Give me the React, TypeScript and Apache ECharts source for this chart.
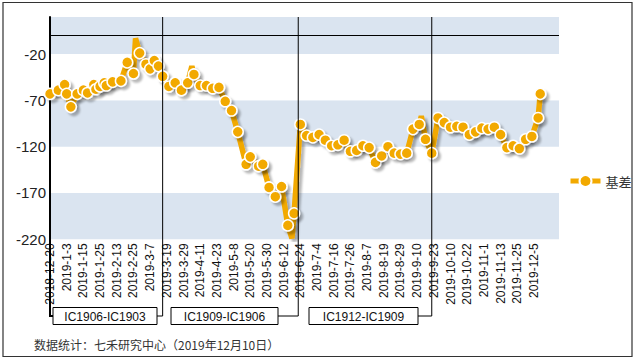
import React, { useEffect, useRef } from "react";
import * as echarts from "echarts";

// x-axis tick labels: one every 8 trading days, starting at trading-day index 0
const tickLabels = [
  "2018-12-20", "2019-1-3", "2019-1-15", "2019-1-25", "2019-2-13", "2019-2-25",
  "2019-3-7", "2019-3-19", "2019-3-29", "2019-4-11", "2019-4-23", "2019-5-8",
  "2019-5-20", "2019-5-30", "2019-6-12", "2019-6-24", "2019-7-4", "2019-7-16",
  "2019-7-26", "2019-8-7", "2019-8-19", "2019-8-29", "2019-9-10", "2019-9-23",
  "2019-10-10", "2019-10-22", "2019-11-1", "2019-11-13", "2019-11-25", "2019-12-5",
];

// trading-day index of each visible point and its basis value
const dayIdx = [
  0, 4, 7, 8, 10, 13, 16, 18, 21, 22, 24, 26, 27, 30, 34, 37, 40, 43, 46, 48, 50, 52, 54,
  57, 60, 63, 66, 69, 72, 75, 78, 81, 84, 87, 90, 94, 96, 100, 102, 105, 108, 111, 114, 117,
  120, 123, 126, 129, 132, 135, 138, 141, 144, 147, 150, 153, 156, 159, 162, 165, 168, 171,
  174, 177, 180, 183, 186, 189, 192, 195, 198, 201, 204, 207, 210, 213, 216, 219, 222, 225,
  228, 231, 234, 235,
];
const basis = [
  -63, -59, -53, -63, -77, -63, -59, -62, -53, -58, -55, -51, -54, -50, -49, -29, -41, -19,
  -31, -36, -27, -33, -44,
  -55, -51, -59, -51, -42, -54, -54, -57, -56, -71, -81, -104, -139, -131, -141, -139, -164,
  -174, -163, -205, -192,
  -96, -108, -110, -107, -113, -119, -118, -113, -125, -124, -119, -121, -137, -130, -120,
  -127, -128, -127, -101, -96, -112, -127,
  -89, -94, -99, -98, -99, -107, -104, -100, -101, -99, -107, -121, -119, -122, -112, -109,
  -89, -63,
];
// sharp turns of the line where no marker is visible
const spikeIdx = [41, 68, 116, 178];
const spikeVal = [-3, -33, -219, -87];

// contract roll days (trading-day index) and the contract-pair captions
const rollIdx = [54, 119, 183];
const pairLabels = ["IC1906-IC1903", "IC1909-IC1906", "IC1912-IC1909"];

const ORANGE = "#f2a900";
const FONT = "'Liberation Sans', Arial, sans-serif";
const CJK = "'Noto Sans CJK SC', sans-serif";
const SHADOW = "rgba(0,0,0,0.28)";

export default function App() {
  const ref = useRef<HTMLDivElement>(null);

  useEffect(() => {
    if (!ref.current) return;
    const chart = echarts.init(ref.current, null, { renderer: "svg" });

    const pts: any[] = dayIdx.map((d, i) => ({ value: [d, basis[i]] }));
    spikeIdx.forEach((d, i) => pts.push({ value: [d, spikeVal[i]], symbol: "none" }));
    pts.sort((a, b) => a.value[0] - b.value[0]);

    chart.setOption({
      animation: false,
      backgroundColor: "#fff",
      grid: { left: 50, top: 17, width: 509, height: 222.3 },
      legend: {
        data: ["基差"],
        left: 563,
        top: 169,
        itemWidth: 30,
        itemHeight: 15,
        itemGap: 6,
        lineStyle: { width: 5 },
        textStyle: { fontSize: 13, color: "#333", fontFamily: CJK },
      },
      xAxis: {
        type: "value",
        min: 0,
        max: 244,
        interval: 8,
        axisLine: { show: false },
        axisTick: { show: false },
        splitLine: { show: false },
        axisLabel: {
          rotate: 90,
          margin: 4,
          fontSize: 12,
          color: "#111",
          fontFamily: FONT,
          showMaxLabel: false,
          formatter: (v: number) => tickLabels[Math.round(v / 8)] ?? "",
        },
      },
      yAxis: {
        type: "value",
        min: -220,
        max: 20,
        interval: 50,
        axisLine: { show: true, onZero: false, lineStyle: { color: "#000", width: 2 } },
        axisTick: { show: false },
        splitLine: { show: false },
        splitArea: { show: true, areaStyle: { color: ["#dae4f0", "#ffffff"] } },
        axisLabel: {
          fontSize: 15,
          color: "#222",
          margin: 4,
          fontFamily: FONT,
          showMaxLabel: false,
        },
      },
      series: [
        {
          name: "基差",
          type: "line",
          data: pts,
          symbol: "circle",
          symbolSize: 11,
          itemStyle: {
            color: ORANGE,
            borderColor: "#fff",
            borderWidth: 1.5,
            shadowColor: SHADOW,
            shadowBlur: 2,
            shadowOffsetX: 3,
            shadowOffsetY: 3,
          },
          lineStyle: {
            color: ORANGE,
            width: 5.5,
            shadowColor: SHADOW,
            shadowBlur: 2,
            shadowOffsetX: 3,
            shadowOffsetY: 3,
          },
          markLine: {
            silent: true,
            symbol: ["none", "none"],
            label: { show: false },
            lineStyle: { color: "#000", width: 1, type: "solid" },
            data: [{ yAxis: 0 }],
          },
        },
      ],
    });

    const px = rollIdx.map((d) => chart.convertToPixel({ xAxisIndex: 0 }, d) as number);
    const boxes = [
      { x: 53, w: 104 },
      { x: 171, w: 107 },
      { x: 309, w: 109 },
    ];
    const lineY = 316;
    const graphic: any[] = [
      {
        type: "rect",
        shape: { x: 3, y: 2.5, width: 629, height: 354 },
        style: { fill: "none", stroke: "#333", lineWidth: 1.2 },
        z: 100,
      },
      {
        type: "text",
        x: 34,
        y: 344,
        style: {
          text: "数据统计：七禾研究中心（2019年12月10日）",
          fontSize: 12,
          fontFamily: CJK,
          fill: "#333",
          verticalAlign: "middle",
        },
        z: 100,
      },
      {
        type: "polyline",
        shape: { points: [[50, 239], [50, lineY], [boxes[0].x, lineY]] },
        style: { stroke: "#000", lineWidth: 2, fill: "none" },
        z: 100,
      },
    ];
    boxes.forEach((b, i) => {
      graphic.push({
        type: "rect",
        shape: { x: b.x, y: 307.5, width: b.w, height: 17 },
        style: { fill: "#fff", stroke: "#000", lineWidth: 1 },
        z: 100,
      });
      graphic.push({
        type: "text",
        x: b.x + b.w / 2,
        y: 316.5,
        style: {
          text: pairLabels[i],
          fontSize: 12,
          fontFamily: FONT,
          fill: "#111",
          align: "center",
          verticalAlign: "middle",
        },
        z: 101,
      });
      graphic.push({
        type: "polyline",
        shape: { points: [[px[i], 17], [px[i], lineY], [b.x + b.w, lineY]] },
        style: { stroke: "#000", lineWidth: 1, fill: "none" },
        z: 100,
      });
    });
    chart.setOption({ graphic });

    return () => chart.dispose();
  }, []);

  return (
    <div
      ref={ref}
      style={{ position: "absolute", left: 0, top: 0, width: 636, height: 361, background: "#fff" }}
    />
  );
}
